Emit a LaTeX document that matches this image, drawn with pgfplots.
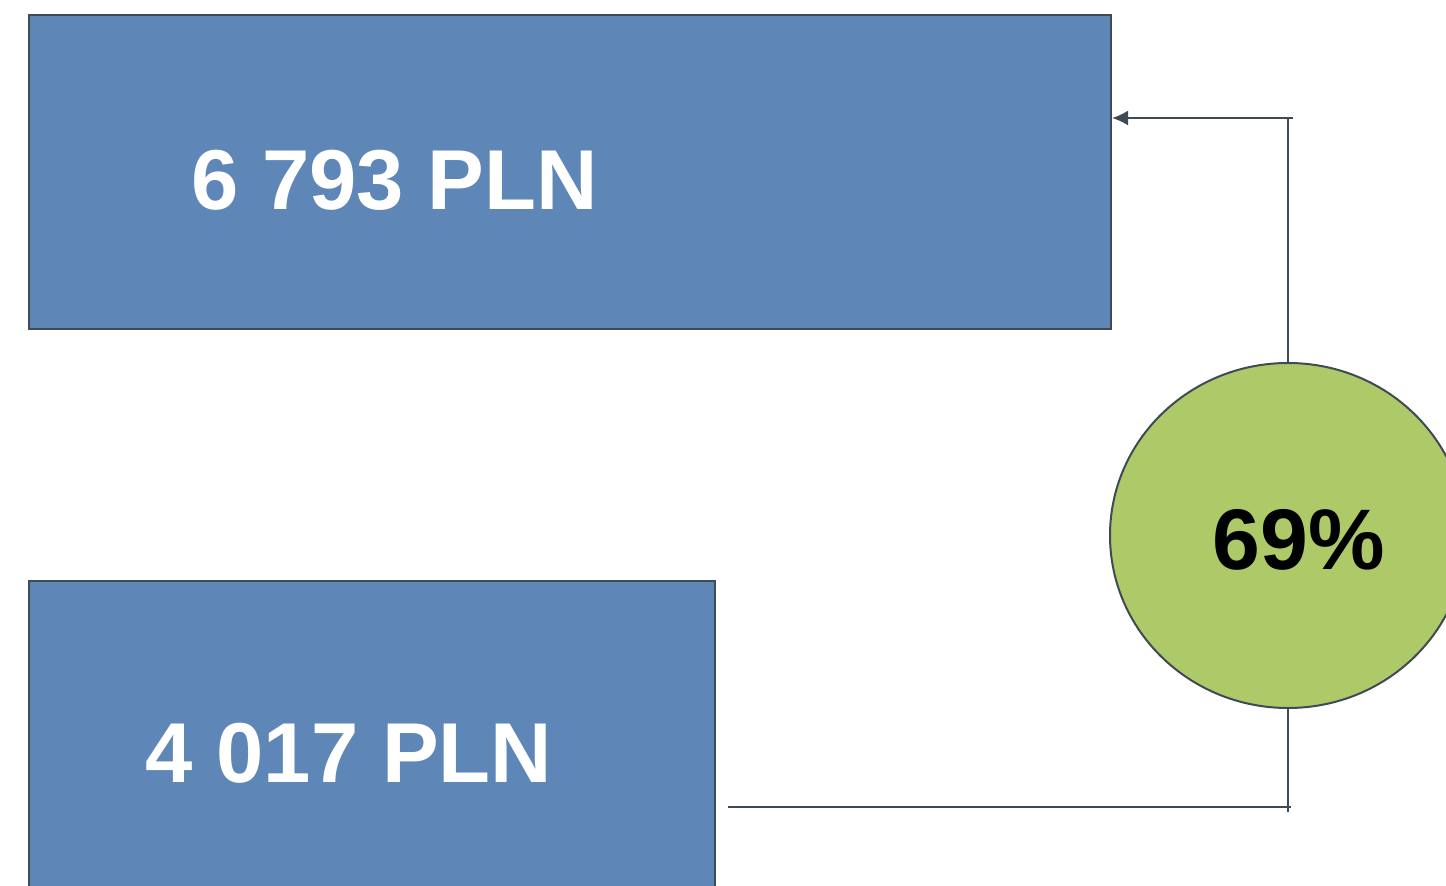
\documentclass[border=0pt]{standalone}
\usepackage{pgfplots}
\pgfplotsset{compat=1.18}
\usetikzlibrary{arrows.meta}
\usepackage{fontspec}
\setmainfont{Liberation Sans}
\definecolor{barblue}{RGB}{94,135,184}
\definecolor{edge}{RGB}{62,74,84}
\definecolor{circgreen}{RGB}{174,201,103}
\begin{document}
\begin{tikzpicture}
\begin{axis}[
  at={(0,0)}, anchor=south west,
  scale only axis, width=723pt, height=442.5pt,
  xmin=-995.2, xmax=9141.3,
  ymin=0, ymax=885, y dir=reverse,
  hide axis, clip=true,
]
\addplot[fill=barblue, draw=edge, line width=1pt] coordinates {(-792,15) (6793,15) (6793,329) (-792,329)} --cycle;
\addplot[fill=barblue, draw=edge, line width=1pt] coordinates {(-792,581) (4017,581) (4017,900) (-792,900)} --cycle;
\node[anchor=base, text=white, font=\fontsize{42.5}{50}\selectfont\bfseries] at (axis cs:1770,209) {6 793 PLN};
\node[anchor=base, text=white, font=\fontsize{42.5}{50}\selectfont\bfseries] at (axis cs:1451,782) {4 017 PLN};
\end{axis}
\begin{scope}[shift={(0,442.5pt)}, x=0.5pt, y=-0.5pt]
  \draw[edge, line width=1pt] (1288,363) -- (1288,118);
  \draw[edge, line width=1pt, -{Latex[length=8pt,width=7.5pt]}] (1293,118) -- (1112,118);
  \draw[edge, line width=1pt] (1288,708) -- (1288,812);
  \draw[edge, line width=1pt] (728,807) -- (1291,807);
  \draw[edge, line width=1pt, fill=circgreen] (1288,535.5) ellipse [x radius=178, y radius=172.5];
  \node[anchor=base, text=black, font=\fontsize{43}{50}\selectfont\bfseries] at (1298.5,569) {69\%};
\end{scope}
\pgfresetboundingbox
\useasboundingbox (0,0) rectangle (723pt,442.5pt);
\end{tikzpicture}
\end{document}
